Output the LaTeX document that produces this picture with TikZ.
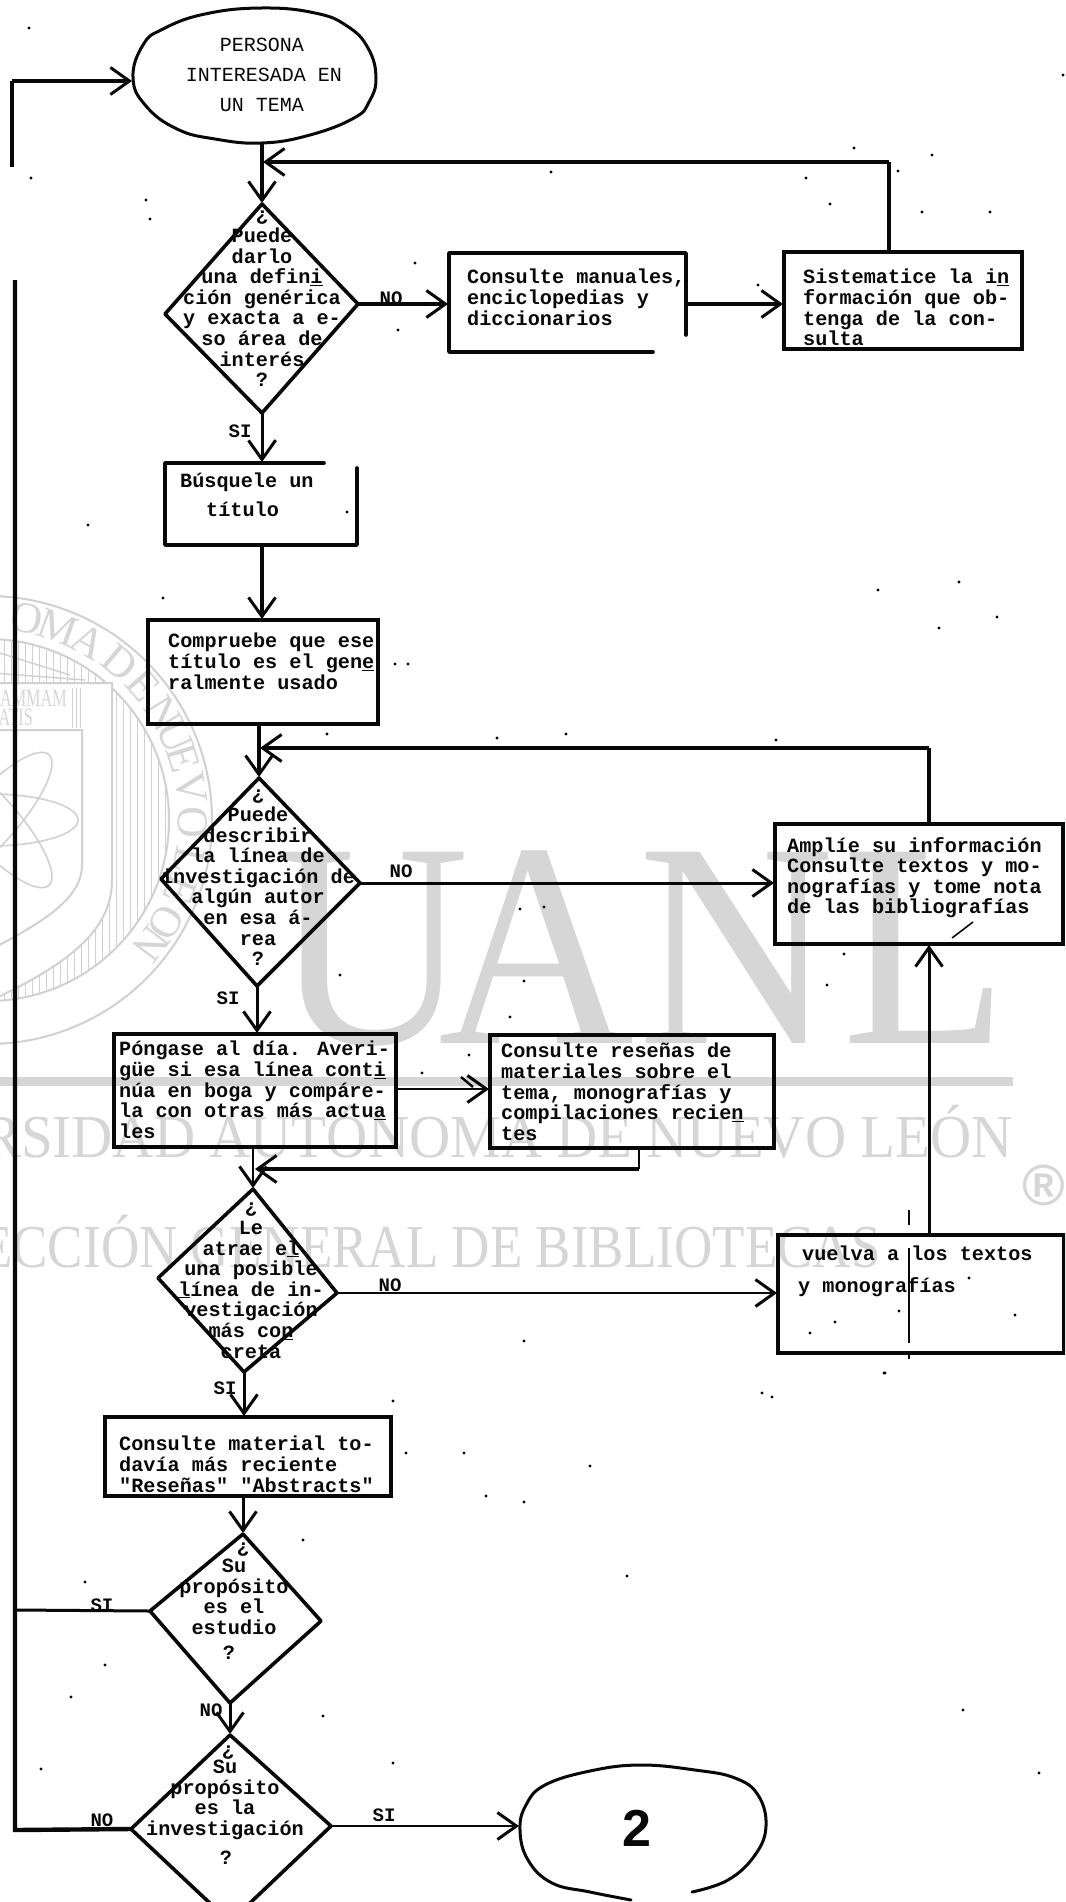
\documentclass[tikz,border=0pt]{standalone}
\usepackage{fontspec}
\setmainfont{Liberation Serif}
\newfontfamily\tw{Liberation Mono}
\newfontfamily\hv{Liberation Sans}
\usetikzlibrary{arrows.meta,calc}
\definecolor{wm}{gray}{0.84}
\definecolor{wl}{gray}{0.82}
\definecolor{ink}{gray}{0.03}
\tikzset{
  edge/.style={draw=ink,line width=3.6pt,line cap=round,line join=round},
  conn/.style={draw=ink,line width=3.6pt,-{Straight Barb[length=19pt,width=27pt,line width=3pt]},shorten >=1pt},
  thin conn/.style={conn,line width=2.4pt},
  plain conn/.style={draw=ink,line width=3.6pt},
  boxn/.style={draw=ink,line width=3.6pt,inner sep=0pt,outer sep=0pt},
  open box/.style={inner sep=0pt,outer sep=0pt},
  tx/.style={font=\fontsize{20.2}{20.6}\selectfont\tw\bfseries,text=ink,inner sep=0pt,align=left,anchor=north west,execute at begin node={\strut}},
  tc/.style={tx,align=center,anchor=north},
  tq/.style={font=\fontsize{20.2}{20.6}\selectfont\tw\bfseries,text=ink,inner sep=0pt},
  tt/.style={font=\fontsize{20}{20}\selectfont\tw,text=ink,inner sep=0pt},
  lab/.style={font=\fontsize{19}{19}\selectfont\tw\bfseries,text=ink,inner sep=0pt},
  wmt/.style={text=wm,inner sep=0pt},
  big/.style={wmt,font=\fontsize{292}{292}\selectfont,anchor=base,xscale=0.93},
}
\begin{document}
\begin{tikzpicture}[x=1pt,y=-1pt]
\useasboundingbox (0,0) rectangle (1065,1902);
\clip (0,0) rectangle (1065,1902);
\fill[white] (0,0) rectangle (1065,1902);

% ---------- watermark ----------
\begin{scope}
  \clip (-12,820) circle (181);
  \foreach \x in {-10,-3,...,175} \draw[wl,line width=1pt] (\x,640) -- (\x,1010);
\end{scope}
\draw[wl,line width=2pt] (-12,820) circle (224);
\draw[wl,line width=2pt] (-12,820) circle (181);
\fill[white,draw=wl,line width=2pt] (-30,683) -- (112,683) -- (112,880) .. controls (112,935) and (60,970) .. (-30,1010) -- cycle;
\fill[white,draw=wl,line width=2pt] (-30,730) -- (82,730) -- (82,865) .. controls (82,900) and (40,925) .. (-30,960) -- cycle;
\draw[wl,line width=1.5pt] (-20,672) -- (85,680);
\draw[wl,line width=1.5pt] (-10,650) -- (70,675);
\foreach \x in {72,76,80} \draw[wl,line width=1pt] (\x,688) -- (\x,728);
\node[wmt,font=\fontsize{25}{25}\selectfont,anchor=east,xscale=0.65] (wm1) at (67,698) {FLAMMAM};
\node[wmt,font=\fontsize{25}{25}\selectfont,anchor=east,xscale=0.65] (wm2) at (33,717) {VERITATIS};
\foreach \r in {0,48,-48}
  \draw[wl,line width=1.6pt,rotate around={\r:(-10,820)}] (-10,820) ellipse (88 and 26);
\foreach \c/\a [count=\i] in {O/79,M/70,A/60.6,D/50,E/41,N/31.4,U/24,E/17.5,V/9,O/-0.6,L/-11.5,E/-20,O/-30,N/-37}
  \node[wmt,font=\fontsize{44}{44}\selectfont,rotate=\a-90] (sl\i) at ({-12+205*cos(\a)},{820-205*sin(\a)}) {\c};
\node[big] (wmU) at (372,1043) {U};
\node[big] (wmA) at (537,1043) {A};
\node[big] (wmN) at (737,1043) {N};
\node[big] (wmL) at (925,1043) {L};
\fill[wm] (-5,1077) rectangle (1013,1086);
\node[wmt,font=\fontsize{61}{61}\selectfont,anchor=base east,xscale=0.935] (wmb) at (1013,1157) {UNIVERSIDAD AUTÓNOMA DE NUEVO LEÓN};
\node[wmt,font=\fontsize{61}{61}\selectfont,anchor=base east,xscale=0.87] (wmc) at (881,1267) {DIRECCIÓN GENERAL DE BIBLIOTECAS};
\node[wmt,font=\hv\bfseries\fontsize{58}{58}\selectfont] (wmr) at (1044,1185) {®};

% ---------- speckles ----------
\foreach \x/\y in {932/155,854/148,1063/75,551/172,898/171,806/178,830/204,922/212,990/212,146/200,150/219,415/263,398/330,758/285,878/590,959/582,997/617,939/628,88/525,163/598,347/512,31/178,29/28,275/441,497/738,566/734,776/740,327/734,395/664,408/664,844/954,827/985,510/1017,340/975,524/981,520/909,544/907,422/1073,469/1055,524/1341,884/1373,762/1393,772/1397,393/1401,406/1453,464/1453,590/1466,486/1496,524/1502,303/1540,627/1576,85/1582,963/1710,1039/1773,41/1769,393/1763,323/1716,105/1665,71/1697,969/1278,1015/1315,899/1311,810/1333,835/1322,885/1373}
  \fill[ink] (\x,\y) circle (1.6);

% ---------- anchors of the hand-drawn shapes ----------
\coordinate (d1t) at (262,204); \coordinate (d1l) at (165,314); \coordinate (d1r) at (358,304); \coordinate (d1b) at (262,413);
\coordinate (d2t) at (259,778); \coordinate (d2l) at (161,879); \coordinate (d2r) at (360,883); \coordinate (d2b) at (257,986);
\coordinate (d3t) at (253,1189); \coordinate (d3l) at (158,1278); \coordinate (d3r) at (337,1293); \coordinate (d3b) at (244,1372);
\coordinate (d4t) at (243,1534); \coordinate (d4l) at (150,1611); \coordinate (d4r) at (321,1621); \coordinate (d4b) at (230,1703);
\coordinate (d5t) at (230,1735); \coordinate (d5l) at (131,1829); \coordinate (d5r) at (331,1826); \coordinate (d5b) at (230,1922);
\coordinate (s1b) at (262,143); \coordinate (s1l) at (133,81);
\coordinate (s2l) at (520,1826);
\coordinate (r1a) at (12,81); \coordinate (r1b) at (12,167);
\coordinate (r2a) at (15,280); \coordinate (r2b) at (15,1830); \coordinate (r2c) at (15,1610);
\coordinate (j1) at (262,162); \coordinate (j2) at (259,748); \coordinate (j3) at (254,1169);

% ---------- terminals ----------
\draw[edge,line width=3pt] plot[smooth cycle,tension=0.75] coordinates {(133,78)(143,45)(163,29)(205,14)(262,8)(315,13)(347,26)(368,48)(376,78)(369,102)(354,118)(310,135)(262,143)(215,139)(177,129)(146,106)};
\draw[edge,line width=3pt] plot[smooth,tension=0.7] coordinates {(692,1892)(728,1880)(755,1855)(766,1826)(758,1795)(735,1778)(695,1770)(640,1765)(590,1771)(545,1785)(526,1805)(520,1830)(528,1860)(552,1883)(590,1892)(631,1900)};

% ---------- diamonds ----------
\draw[edge] (d1t) -- (d1r) -- (d1b) -- (d1l) -- cycle;
\draw[edge] (d2t) -- (d2r) -- (d2b) -- (d2l) -- cycle;
\draw[edge] (d3t) -- (d3r) -- (d3b) -- (d3l) -- cycle;
\draw[edge] (d4t) -- (d4r) -- (d4b) -- (d4l) -- cycle;
\draw[edge] (d5t) -- (d5r) -- (d5b) -- (d5l) -- cycle;

% ---------- boxes ----------
\node[open box,minimum width=237pt,minimum height=99pt] (b2) at (567.5,302.5) {};
\draw[edge] (653,352) -- (b2.south west) -- (b2.north west) -- (b2.north east) -- (686,335);
\node[boxn,minimum width=238pt,minimum height=97pt] (b3) at (903,300.5) {};
\node[open box,minimum width=192pt,minimum height=82pt] (b4) at (261,504) {};
\draw[edge] (b4.north east |- 0,468) -- (b4.south east) -- (b4.south west) -- (b4.north west) -- (324,463);
\node[boxn,minimum width=230pt,minimum height=104pt] (b5) at (263,672) {};
\node[boxn,minimum width=288pt,minimum height=120pt] (b6) at (919,884) {};
\node[boxn,minimum width=282pt,minimum height=113pt] (b7) at (255,1090.5) {};
\node[boxn,minimum width=284pt,minimum height=113pt] (b8) at (632,1091.5) {};
\node[boxn,minimum width=286pt,minimum height=118pt] (b9) at (921,1294) {};
\node[boxn,minimum width=286pt,minimum height=79pt] (b10) at (248,1456.5) {};

% stray marks of the scan
\draw[ink,line width=2.4pt] (909,1210) -- (909,1225);
\draw[ink,line width=2.4pt] (909,1248) -- (909,1343);
\draw[ink,line width=2pt] (909,1352) -- (909,1359);
\draw[ink,line width=1.6pt] (973,922) -- (952,938);

% ---------- texts ----------
\node[tt] (t1a) at (262,45) {PERSONA};
\node[tt] (t1b) at (264,75) {INTERESADA EN};
\node[tt] (t1c) at (262,105) {UN TEMA};

\node[tc] (q1) at (262,211) {¿\\Puede\\darlo\\una defin\underline{i}\\ción genérica\\y exacta a e-\\so área de\\interés\\?};
\node[tx] (tb2) at (467,269) {Consulte manuales,\\enciclopedias y\\diccionarios};
\node[tx] (tb3) at (803,269) {Sistematice la i\underline{n}\\formación que ob-\\tenga de la con-\\sulta};
\node[tx] (tb4a) at (180,473) {Búsquele un};
\node[tx] (tb4b) at (206,502) {título};
\node[tx] (tb5) at (168,633) {Compruebe que ese\\título es el gen\underline{e}\\ralmente usado};
\node[tc] (q2) at (258,790) {¿\\Puede\\describir\\la línea de\\investigación de\\algún autor\\en esa á-\\rea\\?};
\node[tx] (tb6) at (787,837) {Amplíe su información\\Consulte textos y mo-\\nografías y tome nota\\de las bibliografías};
\node[tx] (tb7) at (119,1041) {Póngase al día. Averi-\\güe si esa línea cont\underline{i}\\núa en boga y compáre-\\la con otras más actu\underline{a}\\les};
\node[tx] (tb8) at (501,1043) {Consulte reseñas de\\materiales sobre el\\tema, monografías y\\compilaciones recie\underline{n}\\tes};
\node[tc] (q3) at (251,1203) {¿\\Le\\atrae e\underline{l}\\una posible\\\underline{l}ínea de in-\\vestigación\\más co\underline{n}\\creta};
\node[tx] (tb9a) at (802,1246) {vuelva a los textos};
\node[tx] (tb9b) at (798,1277) {y monografías};
\node[tx] (tb10) at (119,1436) {Consulte material to-\\davía más reciente\\"Reseñas" "Abstracts"};
\node[tq] (q4a) at (243,1550) {¿};
\node[tc] (q4b) at (234,1559) {Su\\propósito\\es el\\estudio};
\node[tq] (q4c) at (229,1653) {?};
\node[tq] (q5a) at (228,1753) {¿};
\node[tc] (q5b) at (225,1760) {Su\\propósito\\es la\\investigación};
\node[tq] (q5c) at (226,1858) {?};
\node[font=\hv\bfseries\fontsize{52}{52}\selectfont,text=ink,inner sep=0pt] (two) at (637,1828) {2};

% ---------- connector labels ----------
\node[lab] (l1) at (391,298) {NO};
\node[lab] (l2) at (240,431) {SI};
\node[lab] (l3) at (401,871) {NO};
\node[lab] (l4) at (228,998) {SI};
\node[lab] (l5) at (390,1285) {NO};
\node[lab] (l6) at (225,1388) {SI};
\node[lab] (l7) at (102,1605) {SI};
\node[lab] (l8) at (211,1710) {NO};
\node[lab] (l9) at (102,1820) {NO};
\node[lab] (l10) at (384,1815) {SI};

% ---------- connectors ----------
\draw[plain conn,line width=4.4pt] (r1b) -- (r1a);
\draw[conn] (r1a) -- (s1l);
\draw[conn] (s1b) -- (d1t);
\draw[plain conn] (b3.north -| 889,0) -- (889,162);
\draw[conn] (889,162) -- (j1);
\draw[conn] (d1r) -- (b2.west |- d1r);
\draw[conn] (b2.east |- d1r) -- (b3.west |- d1r);
\draw[conn,line width=3pt] (d1b) -- (b4.north -| d1b);
\draw[conn] (b4.south -| d1b) -- (b5.north -| d1b);
\draw[conn] (b5.south -| d2t) -- (d2t);
\draw[plain conn] (b6.north -| 929,0) -- (929,748);
\draw[conn] (929,748) -- (j2);
\draw[conn,line width=3pt] (d2r) -- (b6.west |- d2r);
\draw[conn,line width=3pt] (d2b) -- (b7.north -| d2b);
\draw[thin conn] (b7.east |- 0,1089) -- (b8.west |- 0,1089);
\draw[ink,line width=2.4pt] (461,1077) -- (473,1087);
\draw[plain conn,line width=2.8pt] (b8.south -| 639,0) -- (639,1169);
\draw[conn] (639,1169) -- (j3);
\draw[thin conn] (b7.south -| d3t) -- (d3t);
\draw[conn,line width=3pt] (b9.north -| 929,0) -- (b6.south -| 929,0);
\draw[thin conn] (d3r) -- (b9.west |- d3r);
\draw[conn,line width=3pt] (d3b) -- (b10.north -| d3b);
\draw[conn,line width=3pt] (b10.south -| d4t) -- (d4t);
\draw[conn,line width=3pt] (d4b) -- (d5t);
\draw[plain conn,line width=3pt] (d4l) -- (r2c);
\draw[plain conn,line width=4.4pt] (r2a) -- (r2b) -- (d5l);
\draw[thin conn] (d5r) -- (s2l);
\end{tikzpicture}
\end{document}
